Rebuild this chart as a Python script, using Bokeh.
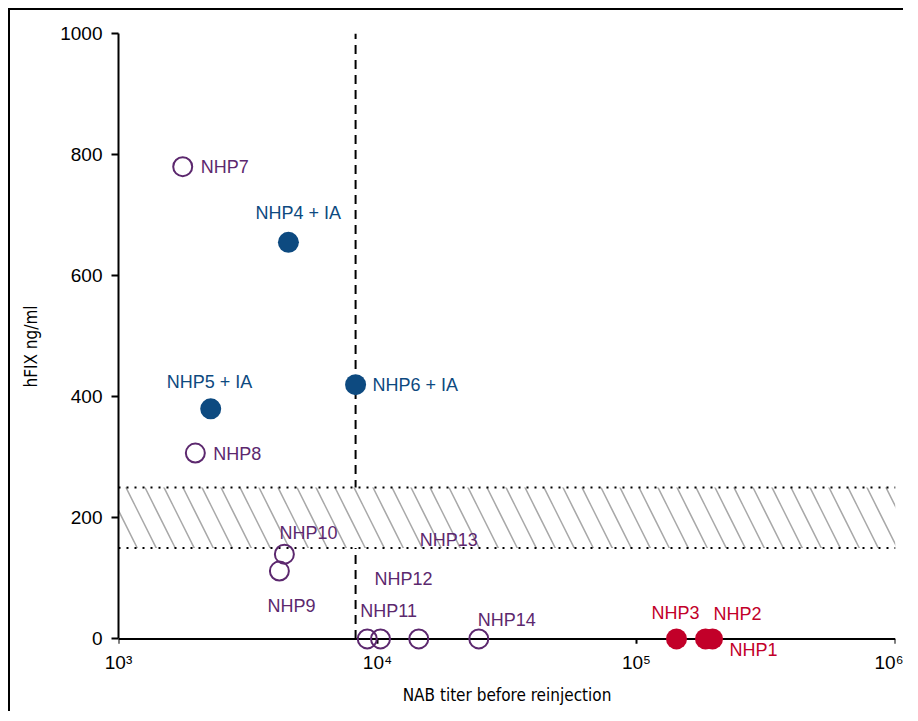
from bokeh.plotting import figure
from bokeh.models import ColumnDataSource, Range1d, FixedTicker
from bokeh.core.properties import value
from bokeh.embed import file_html
from bokeh.resources import INLINE

# ---------------- data ----------------
animal_labels = ["NHP1", "NHP2", "NHP3", "NHP4 + IA", "NHP5 + IA", "NHP6 + IA",
                 "NHP7", "NHP8", "NHP9", "NHP10", "NHP11", "NHP12", "NHP13", "NHP14"]
nab_titer = [196600, 184700, 142700, 4530, 2270, 8230,
             1770, 1980, 4180, 4370, 9130, 10270, 14430, 24610]
hfix_ng_ml = [0, 0, 0, 655, 380, 420,
              780, 307, 112, 140, 0, 0, 0, 0]
group = ["red", "red", "red", "blue", "blue", "blue",
         "purple", "purple", "purple", "purple", "purple", "purple", "purple", "purple"]

nab_threshold = 8230
band_low, band_high = 150, 250
x_ticks = [1e3, 1e4, 1e5, 1e6]
x_tick_labels = ["10\u00b3", "10\u2074", "10\u2075", "10\u2076"]
y_ticks = [0, 200, 400, 600, 800, 1000]

# ---------------- styles ----------------
colors = {"red": "#C20029", "blue": "#0D4A80", "purple": "#5C286E"}
# label offsets in screen pixels (right, down) from each point
label_dx = [17, 8, -25, -33, -44, 17, 18, 18, -12, -5, -7, -6, 1, -1]
label_dy = [11, -25, -26, -29, -27, 0, 0, 1, 35, -21, -28, -60, -99, -19]

FONT = "Liberation Sans"
NARROW = "DejaVu Sans Condensed"
Y_PAD = 34          # room below y=0 so markers / labels on the baseline are not clipped
TICK_LEN = 8        # x-axis tick length, in data units below y=0

p = figure(width=895, height=703, x_axis_type="log",
           x_range=Range1d(x_ticks[0], x_ticks[-1]), y_range=Range1d(-Y_PAD, y_ticks[-1]),
           output_backend="svg", toolbar_location=None,
           min_border_left=108, min_border_top=23, min_border_right=10, min_border_bottom=54)
p.styles = {"margin-left": "8px", "margin-top": "8px",
            "border-left": "2px solid black", "border-top": "2px solid black"}
p.outline_line_color = None
p.grid.visible = False
p.background_fill_color = "white"
p.border_fill_color = "white"

# vertical threshold line (behind band)
p.segment(x0=[nab_threshold], y0=[0], x1=[nab_threshold], y1=[y_ticks[-1]],
          line_color="black", line_width=2, line_dash="9 6")

# hatched band
p.quad(left=[x_ticks[0]], right=[x_ticks[-1]], bottom=[band_low], top=[band_high],
       fill_color="white", line_color=None, hatch_pattern="\\", hatch_color="#A8A8A8",
       hatch_weight=1.5, hatch_scale=38)
for yb in (band_low, band_high):
    p.line(x=[x_ticks[0], x_ticks[-1]], y=[yb, yb], line_color="black",
           line_width=2, line_dash="2 6")

# x axis baseline at y = 0 with downward ticks
p.line(x=[x_ticks[0], x_ticks[-1]], y=[0, 0], line_color="black", line_width=2)
p.segment(x0=x_ticks, y0=[0] * len(x_ticks), x1=x_ticks, y1=[-TICK_LEN] * len(x_ticks),
          line_color="black", line_width=2)

src = ColumnDataSource(dict(
    x=nab_titer, y=hfix_ng_ml, label=animal_labels,
    color=[colors[g] for g in group], dx=label_dx, dy=label_dy,
))

open_idx = [i for i, g in enumerate(group) if g == "purple"]
fill_idx = [i for i, g in enumerate(group) if g != "purple"]
src_open = ColumnDataSource(dict(x=[nab_titer[i] for i in open_idx],
                                 y=[hfix_ng_ml[i] for i in open_idx],
                                 color=[colors[group[i]] for i in open_idx]))
src_fill = ColumnDataSource(dict(x=[nab_titer[i] for i in fill_idx],
                                 y=[hfix_ng_ml[i] for i in fill_idx],
                                 color=[colors[group[i]] for i in fill_idx]))

p.scatter("x", "y", source=src_open, size=19, fill_color=None,
          line_color="color", line_width=2)
p.scatter("x", "y", source=src_fill, size=21, fill_color="color", line_color=None)

p.text("x", "y", text="label", source=src, x_offset="dx", y_offset="dy",
       text_color="color", text_font=value(FONT), text_font_size="18px",
       text_align="left", text_baseline="middle")

# axes
xa = p.xaxis[0]
xa.ticker = FixedTicker(ticks=x_ticks)
xa.major_label_overrides = {t: l for t, l in zip(x_ticks, x_tick_labels)}
xa.axis_line_color = None
xa.major_tick_line_color = None
xa.major_tick_out = 0
xa.major_tick_in = 0
xa.major_label_standoff = -8
xa.axis_label = "NAB titer before reinjection"
xa.axis_label_standoff = 9

ya = p.yaxis[0]
ya.ticker = FixedTicker(ticks=y_ticks)
ya.bounds = (0, y_ticks[-1])
ya.axis_label = "hFIX ng/ml"
ya.axis_line_width = 2
ya.major_tick_line_width = 2
ya.major_tick_out = 7
ya.major_tick_in = 0
ya.major_label_standoff = 9
ya.axis_label_standoff = 16

for ax in (xa, ya):
    ax.minor_tick_line_color = None
    ax.major_label_text_font = FONT
    ax.major_label_text_font_size = "19px"
    ax.major_label_text_color = "black"
    ax.axis_label_text_font = NARROW
    ax.axis_label_text_font_size = "17px"
    ax.axis_label_text_font_style = "normal"
    ax.axis_label_text_color = "black"

open("out.html", "w").write(file_html(p, INLINE))
